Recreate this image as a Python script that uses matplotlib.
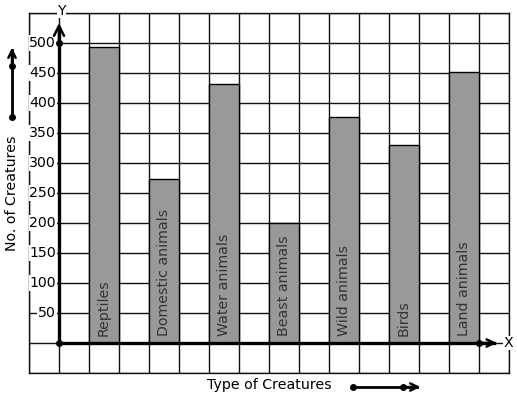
import matplotlib
matplotlib.use("Agg")
import matplotlib.pyplot as plt

categories = ["Reptiles", "Domestic animals", "Water animals", "Beast animals",
              "Wild animals", "Birds", "Land animals"]
values = [493, 273, 431, 200, 377, 330, 452]
y_ticks = [50, 100, 150, 200, 250, 300, 350, 400, 450, 500]

W, H = 517, 399
FS = 10.2
fig = plt.figure(figsize=(W / 100, H / 100), dpi=100)
fig.patch.set_facecolor("white")

# main grid axes: px x 29..509, y 13..373
ax = fig.add_axes([29 / W, (H - 373) / H, 480 / W, 360 / H])
ax.set_xlim(-1, 15)
ax.set_ylim(-50, 550)
ax.set_xticks(range(-1, 16))
ax.set_yticks(range(-50, 551, 50))
ax.grid(True, color="#111111", linewidth=1.0)
ax.set_axisbelow(True)
ax.tick_params(length=0, labelleft=False, labelbottom=False)
for s in ax.spines.values():
    s.set_linewidth(1.0)
    s.set_color("#111111")

# bars
xs = [1.5 + 2 * i for i in range(len(categories))]
ax.bar(xs, values, width=1.0, color="#999999", edgecolor="black", linewidth=1.0, zorder=2)
for x, name in zip(xs, categories):
    ax.text(x, 12, name, rotation=90, ha="center", va="bottom", fontsize=FS,
            color="#333333", zorder=3)

# y tick labels
for v in y_ticks:
    ax.text(-0.1, v, str(v), ha="right", va="center", fontsize=FS, color="black",
            bbox=dict(facecolor="white", edgecolor="none", pad=0.5), zorder=4)

# axes with arrows
big_arrow = dict(arrowstyle="->", color="black", lw=1.8, mutation_scale=18)
small_arrow = dict(arrowstyle="->", color="black", lw=1.8, mutation_scale=13)
ax.plot([0, 14.5], [0, 0], color="black", linewidth=2.4, zorder=5, clip_on=False)
ax.plot([0, 0], [0, 525], color="black", linewidth=2.4, zorder=5, clip_on=False)
ax.annotate("", xy=(14.68, 0), xytext=(14.0, 0), arrowprops=small_arrow,
            zorder=6, annotation_clip=False)
ax.annotate("", xy=(0, 538), xytext=(0, 500), arrowprops=big_arrow,
            zorder=6, annotation_clip=False)
ax.plot([0, 0, 14], [0, 500, 0], "o", color="black", markersize=4, zorder=7, clip_on=False)
ax.text(14.97, 0, "X", ha="center", va="center", fontsize=FS,
        bbox=dict(facecolor="white", edgecolor="none", pad=0.2), zorder=6, clip_on=False)
ax.text(0.07, 553, "Y", ha="center", va="center", fontsize=FS,
        bbox=dict(facecolor="white", edgecolor="none", pad=0.2), zorder=6, clip_on=False)

# overlay in pixel coords for the axis titles and their arrows
ov = fig.add_axes([0, 0, 1, 1])
ov.set_xlim(0, W)
ov.set_ylim(H, 0)
ov.axis("off")
ov.patch.set_alpha(0)

ov.text(12, 193, "No. of Creatures", rotation=90, ha="center", va="center", fontsize=FS)
ov.plot([12, 12], [117, 50], color="black", linewidth=2.0)
ov.annotate("", xy=(12, 45), xytext=(12, 70), arrowprops=small_arrow)
ov.plot([12, 12], [117, 66], "o", color="black", markersize=4)

ov.text(269, 385, "Type of Creatures", ha="center", va="center", fontsize=FS)
ov.plot([353, 417], [387, 387], color="black", linewidth=2.0)
ov.annotate("", xy=(423, 387), xytext=(400, 387), arrowprops=small_arrow)
ov.plot([353, 403], [387, 387], "o", color="black", markersize=4)

fig.savefig("out.png", dpi=100, facecolor="white")
